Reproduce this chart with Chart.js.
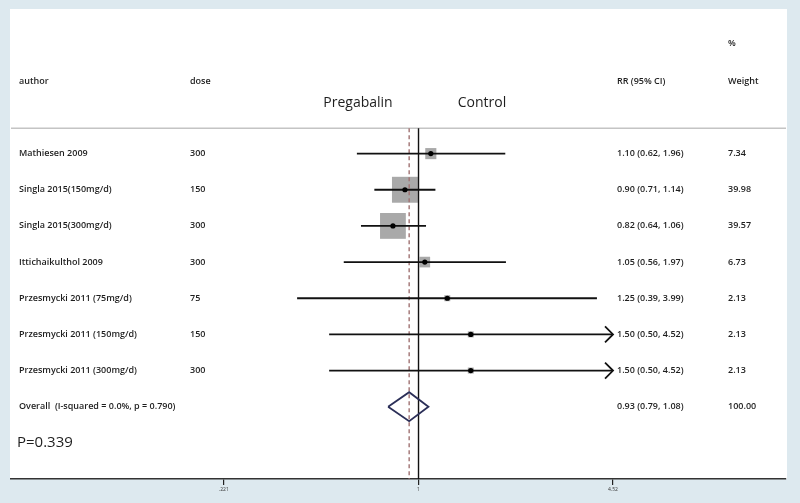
<!DOCTYPE html>
<html>
<head>
<meta charset="utf-8">
<script src="https://cdn.jsdelivr.net/npm/chart.js@4.4.1/dist/chart.umd.min.js"></script>
<style>
  html, body { margin: 0; padding: 0; background: #dde9ef; overflow: hidden; }
  canvas { display: block; }
</style>
</head>
<body>
<canvas id="c" width="800" height="503"></canvas>
<script>
// ---------- data ----------
const authors = ["Mathiesen 2009", "Singla 2015(150mg/d)", "Singla 2015(300mg/d)", "Ittichaikulthol 2009",
                 "Przesmycki 2011 (75mg/d)", "Przesmycki 2011 (150mg/d)", "Przesmycki 2011 (300mg/d)"];
const doses   = ["300", "150", "300", "300", "75", "150", "300"];
const rr      = [1.10, 0.90, 0.82, 1.05, 1.25, 1.50, 1.50];
const lower   = [0.62, 0.71, 0.64, 0.56, 0.39, 0.50, 0.50];
const upper   = [1.96, 1.14, 1.06, 1.97, 3.99, 4.52, 4.52];
const weights = [7.34, 39.98, 39.57, 6.73, 2.13, 2.13, 2.13];
const overallLabel = "Overall  (I-squared = 0.0%, p = 0.790)";
const overallRR = 0.93, overallLo = 0.79, overallHi = 1.08, overallW = 100.00;
const tickValues = [0.221, 1, 4.52];
const tickLabels = [".221", "1", "4.52"];
const pText = "P=0.339";

// ---------- layout constants ----------
const X_MIN = 0.0424, X_MAX = 17.29;
const Y_MIN = -4, Y_MAX = 9;
const SEP_Y = -0.7;
const nStudies = rr.length;
const overallRow = nStudies;
const FONT = "'Open Sans', 'DejaVu Sans', sans-serif";
const TEXT = "#1e1e1e";

const datasets = [];
// dots
datasets.push({
  type: 'scatter', order: 1,
  data: rr.map((v, i) => ({x: v, y: i})),
  pointStyle: 'circle', pointRadius: 2.6, pointBackgroundColor: '#000', pointBorderWidth: 0
});
// overall diamond
datasets.push({
  type: 'scatter', order: 2, showLine: true,
  data: [{x: overallLo, y: overallRow}, {x: overallRR, y: overallRow - 0.4},
         {x: overallHi, y: overallRow}, {x: overallRR, y: overallRow + 0.4},
         {x: overallLo, y: overallRow}],
  borderColor: '#2b2f58', borderWidth: 1.8, pointRadius: 0, fill: false, tension: 0
});
// CI lines
rr.forEach((v, i) => {
  datasets.push({
    type: 'scatter', order: 3, showLine: true,
    data: [{x: lower[i], y: i}, {x: upper[i], y: i}],
    borderColor: '#111', borderWidth: 1.8, pointRadius: 0
  });
});
// reference lines
datasets.push({
  type: 'scatter', order: 4, showLine: true,
  data: [{x: 1, y: SEP_Y}, {x: 1, y: Y_MAX}],
  borderColor: '#111', borderWidth: 1.4, pointRadius: 0
});
datasets.push({
  type: 'scatter', order: 4, showLine: true,
  data: [{x: overallRR, y: SEP_Y}, {x: overallRR, y: Y_MAX}],
  borderColor: '#a07272', borderWidth: 1.4, borderDash: [4, 3], pointRadius: 0
});
// separator line
datasets.push({
  type: 'scatter', order: 4, showLine: true,
  data: [{x: X_MIN, y: SEP_Y}, {x: X_MAX, y: SEP_Y}],
  borderColor: '#c4c4c4', borderWidth: 1.5, pointRadius: 0
});
// weight squares
datasets.push({
  type: 'scatter', order: 5,
  data: rr.map((v, i) => ({x: v, y: i})),
  pointStyle: 'rect', pointRadius: weights.map(w => Math.sqrt(w) * 2.9),
  pointBackgroundColor: '#a9a9a9', pointBorderWidth: 0
});

const panelPlugin = {
  id: 'panel',
  beforeDraw(chart) {
    const {ctx, chartArea: a} = chart;
    ctx.save();
    ctx.fillStyle = '#ffffff';
    ctx.fillRect(a.left - 1, a.top, a.right - a.left + 2, a.bottom - a.top);
    ctx.restore();
  }
};

const arrowPlugin = {
  id: 'arrows',
  afterDatasetsDraw(chart) {
    const {ctx, scales: {x, y}} = chart;
    const lim = tickValues[tickValues.length - 1];
    ctx.save();
    ctx.strokeStyle = '#111';
    ctx.lineWidth = 1.8;
    upper.forEach((u, i) => {
      if (u >= lim) {
        const px = x.getPixelForValue(lim), py = y.getPixelForValue(i);
        ctx.beginPath();
        ctx.moveTo(px - 8, py - 8);
        ctx.lineTo(px, py);
        ctx.lineTo(px - 8, py + 8);
        ctx.stroke();
      }
    });
    ctx.restore();
  }
};

const textPlugin = {
  id: 'texts',
  afterDraw(chart) {
    const {ctx, scales: {y}} = chart;
    const colAuthor = 19, colDose = 190, colRR = 617, colW = 728;
    ctx.save();
    ctx.fillStyle = TEXT;
    ctx.textBaseline = 'middle';
    ctx.textAlign = 'left';
    ctx.font = `600 9px ${FONT}`;
    // headers
    ctx.fillText("%", colW, y.getPixelForValue(-3.05));
    ctx.fillText("author", colAuthor, y.getPixelForValue(-2));
    ctx.fillText("dose", colDose, y.getPixelForValue(-2));
    ctx.fillText("RR (95% CI)", colRR, y.getPixelForValue(-2));
    ctx.fillText("Weight", colW, y.getPixelForValue(-2));
    // rows
    authors.forEach((a, i) => {
      const py = y.getPixelForValue(i);
      ctx.fillText(a, colAuthor, py);
      ctx.fillText(doses[i], colDose, py);
      ctx.fillText(`${rr[i].toFixed(2)} (${lower[i].toFixed(2)}, ${upper[i].toFixed(2)})`, colRR, py);
      ctx.fillText(weights[i].toFixed(2), colW, py);
    });
    const po = y.getPixelForValue(overallRow);
    ctx.fillText(overallLabel, colAuthor, po);
    ctx.fillText(`${overallRR.toFixed(2)} (${overallLo.toFixed(2)}, ${overallHi.toFixed(2)})`, colRR, po);
    ctx.fillText(overallW.toFixed(2), colW, po);
    // group labels
    ctx.font = `14px ${FONT}`;
    ctx.textAlign = 'center';
    ctx.fillText("Pregabalin", 358, y.getPixelForValue(-1.4));
    ctx.fillText("Control", 482, y.getPixelForValue(-1.4));
    ctx.textAlign = 'left';
    ctx.font = `15px ${FONT}`;
    ctx.fillText(pText, 17, y.getPixelForValue(8));
    ctx.restore();
  }
};

new Chart(document.getElementById('c'), {
  data: { datasets },
  plugins: [panelPlugin, arrowPlugin, textPlugin],
  options: {
    responsive: false,
    animation: false,
    devicePixelRatio: 1,
    layout: { autoPadding: false, padding: { left: 11, right: 14, top: 9, bottom: 8 } },
    plugins: { legend: { display: false }, tooltip: { enabled: false } },
    scales: {
      x: {
        type: 'logarithmic', min: X_MIN, max: X_MAX,
        afterBuildTicks(scale) { scale.ticks = tickValues.map(v => ({value: v})); },
        ticks: {
          autoSkip: false, maxRotation: 0, padding: 2,
          font: { size: 5, family: FONT }, color: '#333',
          callback: (v) => { const k = tickValues.indexOf(v); return k >= 0 ? tickLabels[k] : ''; }
        },
        grid: { drawOnChartArea: false, drawTicks: true, tickLength: 6, color: '#222', lineWidth: 1.2 },
        border: { display: true, color: '#333', width: 1.5 }
      },
      y: {
        type: 'linear', min: Y_MIN, max: Y_MAX, reverse: true, display: false
      }
    }
  }
});
</script>
</body>
</html>
